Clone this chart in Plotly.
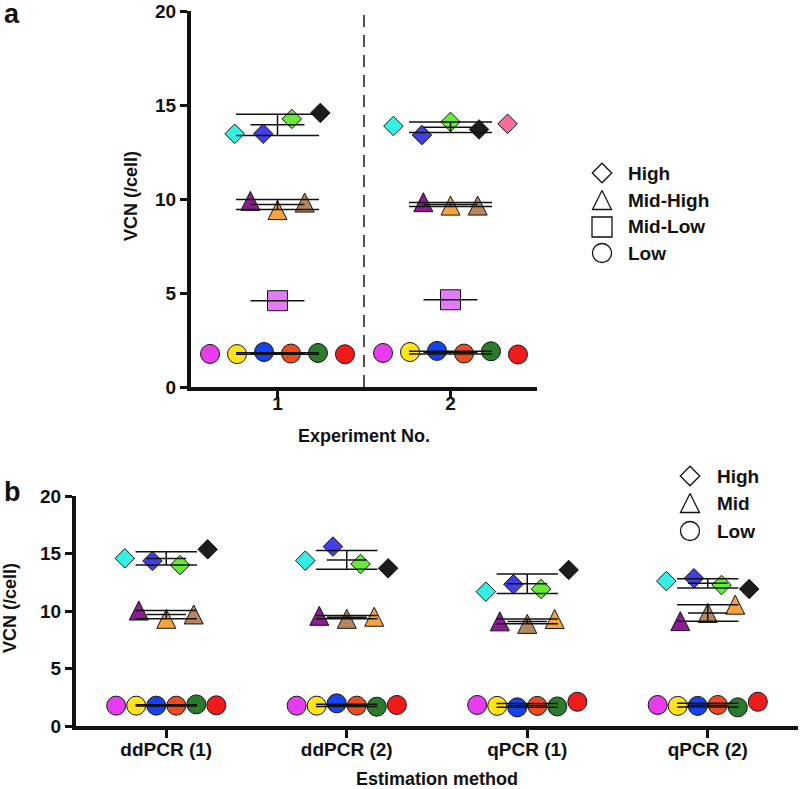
import plotly.graph_objects as go
import numpy as np

# ---------------- data ----------------
# Panel a: VCN per experiment
exp_labels = ["1", "2"]
a_high = [[13.47, 13.47, 14.26, 14.58], [13.88, 13.40, 14.10, 13.70, 14.00]]
a_high_colors = [["cyan", "indigo", "lime", "black"], ["cyan", "indigo", "lime", "black", "pink"]]
a_midhigh = [[9.90, 9.41, 9.81], [9.83, 9.65, 9.65]]
a_midhigh_colors = [["purple", "orange", "brown"], ["purple", "orange", "brown"]]
a_midlow = [[4.59], [4.64]]
a_midlow_colors = [["violet"], ["violet"]]
a_low = [[1.76, 1.75, 1.86, 1.78, 1.81, 1.74], [1.81, 1.86, 1.92, 1.78, 1.90, 1.73]]
low_colors = ["magenta", "yellow", "blue", "vermilion", "green", "red"]
a_low_colors = [low_colors, low_colors]
a_legend = ["High", "Mid-High", "Mid-Low", "Low"]

# Panel b: VCN per estimation method
method_labels = ["ddPCR (1)", "ddPCR (2)", "qPCR (1)", "qPCR (2)"]
b_high = [[14.58, 14.35, 14.00, 15.36], [14.38, 15.60, 14.09, 13.71],
          [11.68, 12.32, 11.91, 13.57], [12.60, 12.84, 12.26, 11.91]]
b_high_colors = [["cyan", "indigo", "lime", "black"]] * 4
b_mid = [[10.04, 9.32, 9.70], [9.58, 9.32, 9.50], [9.10, 8.88, 9.30], [9.12, 9.83, 10.55]]
b_mid_colors = [["purple", "orange", "brown"], ["purple", "brown", "orange"],
                ["purple", "brown", "orange"], ["purple", "brown", "orange"]]
b_low = [[1.77, 1.77, 1.77, 1.77, 1.88, 1.80], [1.77, 1.77, 1.97, 1.77, 1.68, 1.83],
         [1.83, 1.75, 1.62, 1.75, 1.70, 2.11], [1.83, 1.75, 1.75, 1.83, 1.62, 2.11]]
b_low_colors = [low_colors] * 4
b_legend = ["High", "Mid", "Low"]

# ---------------- styles ----------------
PALETTE = {
    "cyan": "#36EFE4", "indigo": "#4040E4", "lime": "#66EC36", "black": "#1C1C1C",
    "pink": "#EF6E9C", "purple": "#8C1C92", "orange": "#F8A23E", "brown": "#B6875F",
    "violet": "#E27CF2", "magenta": "#E83CF0", "yellow": "#FFE31A", "blue": "#1643F0",
    "vermilion": "#F04B1E", "green": "#2C7A2C", "red": "#F21B1B",
}
FONT = "Liberation Sans, Arial, sans-serif"
W, H = 800, 789
EDGE = "#141414"

SYM = {
    "diamond": dict(symbol="diamond", size=15),
    "triangle": dict(symbol="arrow-down", size=19, angle=180, standoff=9.5),
    "square": dict(symbol="square", size=20),
    "circle": dict(symbol="circle", size=19),
}

fig = go.Figure()
line_traces = []


def add_group(vals_list, cols_list, shape, positions, step, mean_hw, sd_hw, xa, ya):
    for pos, vals, cols in zip(positions, vals_list, cols_list):
        n = len(vals)
        offs = (np.arange(n) - (n - 1) / 2.0) * step
        m = SYM[shape]
        marker = dict(symbol=m["symbol"], size=m["size"],
                      color=[PALETTE[c] for c in cols],
                      line=dict(color=EDGE, width=1))
        if "angle" in m:
            marker["angle"] = m["angle"]
            marker["standoff"] = m["standoff"]
        fig.add_trace(go.Scatter(x=pos + offs, y=vals, mode="markers", marker=marker,
                                 xaxis=xa, yaxis=ya, showlegend=False, hoverinfo="y",
                                 cliponaxis=False))
        mean = float(np.mean(vals))
        lx = [pos - mean_hw, pos + mean_hw, None]
        ly = [mean, mean, None]
        if n > 1:
            sd = float(np.std(vals, ddof=1))
            lx += [pos - sd_hw, pos + sd_hw, None, pos - sd_hw, pos + sd_hw, None, pos, pos, None]
            ly += [mean + sd, mean + sd, None, mean - sd, mean - sd, None, mean - sd, mean + sd, None]
        line_traces.append(go.Scatter(x=lx, y=ly, mode="lines",
                                      line=dict(color="#111111", width=1.5),
                                      xaxis=xa, yaxis=ya, showlegend=False,
                                      hoverinfo="skip", cliponaxis=False))


pos_a = [i + 1 for i in range(len(exp_labels))]
pos_b = list(range(len(method_labels)))

add_group(a_low, a_low_colors, "circle", pos_a, 0.156, 0.156, 0.24, "x", "y")
add_group(a_midlow, a_midlow_colors, "square", pos_a, 0.16, 0.156, 0.24, "x", "y")
add_group(a_midhigh, a_midhigh_colors, "triangle", pos_a, 0.157, 0.156, 0.24, "x", "y")
add_group(a_high, a_high_colors, "diamond", pos_a, 0.165, 0.156, 0.24, "x", "y")

add_group(b_low, b_low_colors, "circle", pos_b, 0.111, 0.11, 0.17, "x2", "y2")
add_group(b_mid, b_mid_colors, "triangle", pos_b, 0.152, 0.11, 0.17, "x2", "y2")
add_group(b_high, b_high_colors, "diamond", pos_b, 0.153, 0.11, 0.17, "x2", "y2")

for t in line_traces:
    fig.add_trace(t)

# dashed separator between the two experiments (panel a)
sep = (pos_a[0] + pos_a[1]) / 2.0
fig.add_trace(go.Scatter(x=[sep, sep], y=[0, 20], mode="lines",
                         line=dict(color="#505050", width=2, dash="12px,8px"),
                         xaxis="x", yaxis="y", showlegend=False, hoverinfo="skip"))

# ---------------- custom legends (overlay in pixel space) ----------------
def px_legend(labels, shapes, mx, tx, ys):
    for lab, shp, yy in zip(labels, shapes, ys):
        m = SYM[shp]
        marker = dict(symbol=m["symbol"], size=m["size"], color="white",
                      line=dict(color="#111111", width=1.3))
        if "angle" in m:
            marker["angle"] = m["angle"]
            marker["standoff"] = m["standoff"]
        fig.add_trace(go.Scatter(x=[mx], y=[yy], mode="markers", marker=marker,
                                 xaxis="x3", yaxis="y3", showlegend=False, hoverinfo="skip",
                                 cliponaxis=False))
        fig.add_annotation(x=tx / W, y=1 - yy / H, xref="paper", yref="paper", text=lab,
                           showarrow=False, xanchor="left", yanchor="middle",
                           font=dict(family=FONT, size=19, color="#111111", weight="bold"))


px_legend(a_legend, ["diamond", "triangle", "square", "circle"], 602, 626, [173, 200, 227, 253])
px_legend(b_legend, ["diamond", "triangle", "circle"], 690, 715, [476, 503, 531])

# ---------------- axes ----------------
def axis_style(**kw):
    d = dict(showline=True, linewidth=4, linecolor="#111111", ticks="outside",
             tickwidth=3, tickcolor="#111111", showgrid=False, zeroline=False,
             tickfont=dict(family=FONT, size=19, color="#111111", weight="bold"),
             fixedrange=True, automargin=False, ticklabeloverflow="allow")
    d.update(kw)
    return d


fig.update_layout(
    width=W, height=H,
    margin=dict(l=0, r=0, t=0, b=0, autoexpand=False),
    paper_bgcolor="white", plot_bgcolor="rgba(0,0,0,0)",
    showlegend=False,
    xaxis=axis_style(domain=[191 / W, 537 / W], range=[0.5, 2.5], tickvals=pos_a,
                     ticktext=exp_labels, ticklen=8, anchor="y", ticklabelstandoff=-12),
    yaxis=axis_style(domain=[1 - 387 / H, 1 - 11 / H], range=[0, 20],
                     tickvals=[0, 5, 10, 15, 20], ticklen=7, anchor="x"),
    xaxis2=axis_style(domain=[76 / W, 798 / W], range=[-0.5, 3.5], tickvals=pos_b,
                      ticktext=method_labels, ticklen=8, anchor="y2", ticklabelstandoff=-5),
    yaxis2=axis_style(domain=[1 - 726 / H, 1 - 496 / H], range=[0, 20],
                      tickvals=[0, 5, 10, 15, 20], ticklen=7, anchor="x2"),
    xaxis3=dict(domain=[0, 1], range=[0, W], visible=False, fixedrange=True, anchor="y3",
                automargin=False),
    yaxis3=dict(domain=[0, 1], range=[H, 0], visible=False, fixedrange=True, anchor="x3",
                automargin=False),
)

def label(text, x, y, size, angle=0):
    fig.add_annotation(x=x / W, y=1 - y / H, xref="paper", yref="paper", text=text,
                       showarrow=False, xanchor="center", yanchor="middle", textangle=angle,
                       font=dict(family=FONT, size=size, color="#111111", weight="bold"))


label("a", 12, 14, 27)
label("b", 12, 492, 27)
label("VCN (/cell)", 131, 196, 18, -90)
label("VCN (/cell)", 10, 608, 18, -90)
label("Experiment No.", 364, 436, 18)
label("Estimation method", 437, 779, 18)

fig.write_html("out.html", config={"displayModeBar": False},
               post_script="document.body.style.margin='0px';document.body.style.overflow='hidden';")
